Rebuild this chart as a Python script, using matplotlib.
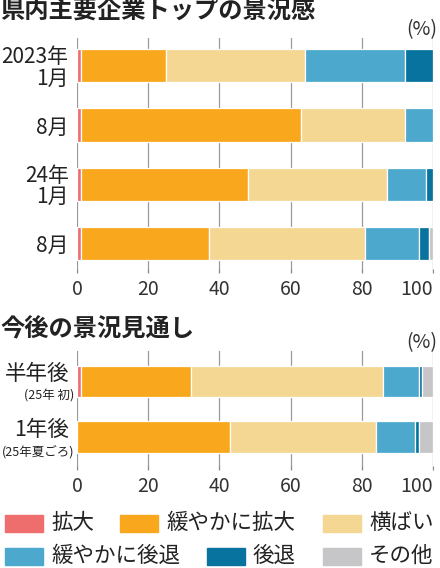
import matplotlib.pyplot as plt
from matplotlib.patches import Rectangle
import numpy as np

plt.rcParams['font.family'] = ['Noto Sans CJK JP', 'DejaVu Sans']

# data (%)
series = ['拡大', '緩やかに拡大', '横ばい', '緩やかに後退', '後退', 'その他']
colors = ['#EE6E6E', '#F9A71C', '#F5D794', '#4CA8CD', '#08739F', '#C6C6C8']

top_labels = ['2023年\n1月', '8月', '24年\n1月', '8月']
top_vals = np.array([
    [1, 24, 39, 28, 8, 0],
    [1, 62, 29, 8, 0, 0],
    [1, 47, 39, 11, 2, 0],
    [1, 36, 44, 15, 3, 1],
])

bot_labels = ['半年後', '1年後']
bot_sub = ['(25年 初)', '(25年夏ごろ)']
bot_vals = np.array([
    [1, 31, 54, 10, 1, 3],
    [0, 43, 41, 11, 1, 4],
])

W, H = 440, 568
fig = plt.figure(figsize=(W / 100, H / 100), dpi=100)


def px_axes(x0, y0, x1, y1):
    return fig.add_axes([x0 / W, 1 - y1 / H, (x1 - x0) / W, (y1 - y0) / H])


def stack(ax, vals):
    y = np.arange(len(vals))
    left = np.zeros(len(vals))
    for j in range(vals.shape[1]):
        w = vals[:, j]
        lw = [0.9 if v > 0 else 0 for v in w]
        ax.barh(y, w, left=left, height=0.56, color=colors[j],
                edgecolor='white', linewidth=lw, zorder=3)
        left += w
    ax.set_xlim(0, 100)
    ax.set_xticks([0, 20, 40, 60, 80, 100])
    ax.tick_params(axis='x', length=3, direction='in', color='#888888',
                   labelsize=14, pad=4, labelcolor='#333333')
    ax.tick_params(axis='y', length=0)
    ax.grid(axis='x', color='#9a9a9a', linewidth=0.9, zorder=0)
    for s in ax.spines.values():
        s.set_visible(False)
    ax.get_xticklabels()[-1].set_ha('right')


# top chart
ax1 = px_axes(77, 38, 433, 273)
stack(ax1, top_vals)
ax1.set_ylim(3.5, -0.47)
ax1.set_yticks(range(len(top_labels)))
ax1.set_yticklabels(top_labels, fontsize=15, linespacing=0.95, color='#222222')
ax1.tick_params(axis='y', pad=6)

# bottom chart
ax2 = px_axes(77, 351, 433, 470)
stack(ax2, bot_vals)
ax2.set_ylim(1.59, -0.54)
ax2.set_yticks([0, 1])
ax2.set_yticklabels([])
for i in range(len(bot_labels)):
    ax2.annotate(bot_labels[i], xy=(0, i), xycoords=('axes fraction', 'data'),
                 xytext=(-8, 7), textcoords='offset pixels',
                 ha='right', va='center', fontsize=15.5, color='#222222')
    ax2.annotate(bot_sub[i], xy=(0, i), xycoords=('axes fraction', 'data'),
                 xytext=(-3, -15), textcoords='offset pixels',
                 ha='right', va='center', fontsize=9, color='#222222')

# titles
fig.text(0, 1 - 12 / H, '県内主要企業トップの景況感', fontsize=17.5,
         fontweight='bold', va='center', ha='left', color='#222222')
fig.text(0, 1 - 329 / H, '今後の景況見通し', fontsize=17.5,
         fontweight='bold', va='center', ha='left', color='#222222')
fig.text(437 / W, 1 - 30 / H, '(%)', fontsize=14, va='center', ha='right',
         color='#333333')
fig.text(437 / W, 1 - 343 / H, '(%)', fontsize=14, va='center', ha='right',
         color='#333333')

# legend
leg_x = [5, 120, 323, 5, 207, 323]
leg_y = [523, 523, 523, 556, 556, 556]
for k, (lab, c) in enumerate(zip(series, colors)):
    x = leg_x[k]
    yc = leg_y[k]
    fig.patches.append(Rectangle((x / W, 1 - (yc + 8.5) / H), 38 / W, 17 / H,
                                 transform=fig.transFigure, color=c))
    fig.text((x + 46) / W, 1 - yc / H, lab, fontsize=15.5, va='center',
             ha='left', color='#222222')

fig.savefig('out.png', dpi=100)
